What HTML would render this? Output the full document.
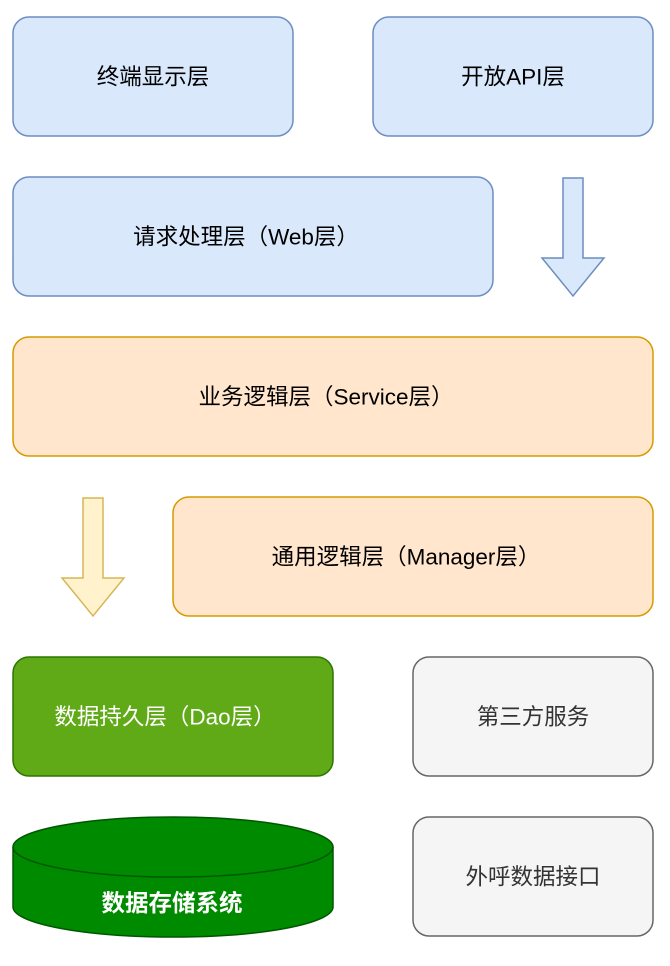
<!DOCTYPE html>
<html><head><meta charset="utf-8"><style>
body{margin:0;background:#fff;}
</style></head><body>
<svg width="670" height="966" xmlns="http://www.w3.org/2000/svg" style="display:block;font-family:'Liberation Sans','Noto Sans CJK SC',sans-serif;font-size:22.5px">
<g stroke-width="1.5">
<rect x="13" y="17" width="280" height="119" rx="16" fill="#dae8fc" stroke="#6c8ebf"/>
<rect x="373" y="17" width="280" height="119" rx="16" fill="#dae8fc" stroke="#6c8ebf"/>
<rect x="13" y="177" width="480" height="119" rx="16" fill="#dae8fc" stroke="#6c8ebf"/>
<polygon points="563,178 583,178 583,258 604,258 573,296 542,258 563,258" fill="#dae8fc" stroke="#6c8ebf"/>
<rect x="13" y="337" width="640" height="119" rx="16" fill="#ffe6cc" stroke="#d79b00"/>
<polygon points="83,498 103,498 103,578 124,578 93,616 62,578 83,578" fill="#fff2cc" stroke="#d6b656"/>
<rect x="173" y="497" width="480" height="119" rx="16" fill="#ffe6cc" stroke="#d79b00"/>
<rect x="13" y="657" width="320" height="119" rx="16" fill="#60a917" stroke="#2d7600"/>
<rect x="413" y="657" width="240" height="119" rx="16" fill="#f5f5f5" stroke="#666666"/>
<rect x="413" y="817" width="240" height="119" rx="16" fill="#f5f5f5" stroke="#666666"/>
<path d="M13,847 A160,30 0 0 1 333,847 L333,907 A160,30 0 0 1 13,907 Z" fill="#008a00" stroke="#005700"/>
<path d="M13,847 A160,30 0 0 0 333,847" fill="none" stroke="#005700"/>
</g>
<g text-anchor="middle" dominant-baseline="central">
<text x="153" y="77">终端显示层</text>
<text x="513" y="77">开放API层</text>
<text x="246" y="237">请求处理层（Web层）</text>
<text x="326" y="397">业务逻辑层（Service层）</text>
<text x="406" y="557">通用逻辑层（Manager层）</text>
<text x="165" y="717" fill="#fff">数据持久层（Dao层）</text>
<text x="533" y="717" fill="#333">第三方服务</text>
<text x="533" y="877" fill="#333">外呼数据接口</text>
<text x="172" y="903" fill="#fff" font-weight="bold" font-size="23.5px">数据存储系统</text>
</g>
</svg>
</body></html>
